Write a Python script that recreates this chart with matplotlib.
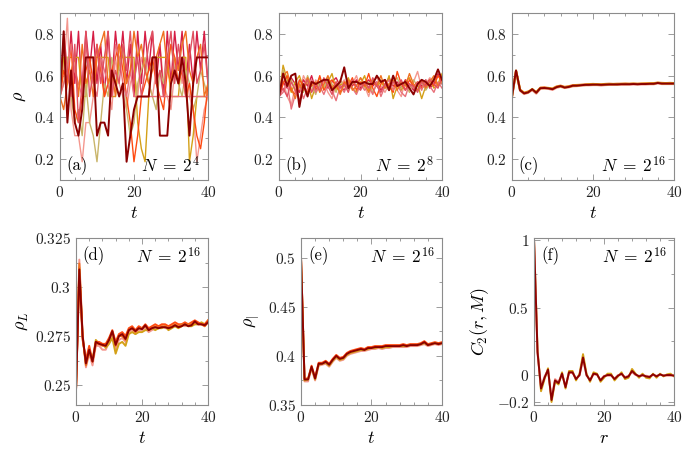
import matplotlib
matplotlib.use("Agg")
import matplotlib.pyplot as plt
from matplotlib.ticker import MultipleLocator, FuncFormatter, FixedLocator

plt.rcParams["font.family"] = "serif"
plt.rcParams["font.serif"] = ["cmr10"]
plt.rcParams["mathtext.fontset"] = "cm"
plt.rcParams["axes.formatter.use_mathtext"] = True

# time axis
t = list(range(41))

# colours of the runs (dark red is the reference run, drawn on top)
run_colors = ["#F4978E", "#D61E45", "#D4A017", "#C9B56A", "#FF4B12", "#E8707A", "#F07020", "#E05060"]
dark = "#8B0000"

# (a) N = 2^4 : number of occupied sites out of 16
a_runs = [
    [8,10,14,7,5,5,3,6,6,8,10,11,8,9,7,11,9,8,7,9,10,8,11,10,9,8,10,12,9,8,7,10,11,9,10,8,7,3,5,7,8],
    [8,12,9,13,9,13,8,13,10,13,9,12,8,13,9,13,10,13,9,12,8,13,9,13,10,13,9,12,8,13,9,13,10,13,9,12,9,13,10,13,9],
    [8,11,11,11,11,11,8,8,11,11,11,11,11,11,8,8,11,11,11,11,11,6,4,3,8,11,11,11,11,11,8,8,8,11,11,3,5,8,8,8,8],
    [8,9,11,8,6,7,5,9,6,5,3,6,9,8,11,9,10,12,7,5,6,9,10,11,9,8,7,10,9,11,12,10,9,8,10,9,7,8,10,9,8],
    [8,10,9,12,7,6,8,10,11,9,12,10,8,9,10,11,12,10,8,6,3,5,8,9,10,11,9,8,7,10,12,11,9,10,8,9,7,5,4,6,9],
    [8,9,10,12,10,9,8,12,10,9,8,11,10,9,8,12,11,9,8,10,8,8,8,8,8,8,8,8,8,8,8,8,8,8,8,8,8,8,8,8,8],
    [8,7,9,10,11,8,12,9,10,8,11,12,13,9,10,8,12,11,9,10,13,11,12,10,9,10,11,12,13,10,9,11,10,12,13,10,9,11,12,8,9],
    [8,13,10,8,12,6,9,13,8,10,12,9,11,13,8,10,9,12,10,13,9,11,8,10,12,13,9,10,8,11,13,9,12,10,8,11,13,9,10,12,9],
]
a_dark = [8,13,6,10,6,5,7,11,11,11,5,6,6,5,10,9,8,9,3,5,7,8,8,8,8,11,11,5,5,5,9,10,9,11,9,5,9,11,11,11,11]
a_sites = 16

# (b) N = 2^8
b_runs = [
    [0.5,0.58,0.50,0.46,0.55,0.52,0.60,0.56,0.53,0.58,0.55,0.57,0.52,0.49,0.56,0.55,0.58,0.53,0.56,0.60,0.54,0.55,0.50,0.57,0.59,0.55,0.52,0.56,0.57,0.53,0.50,0.58,0.55,0.57,0.62,0.54,0.56,0.59,0.57,0.55,0.60],
    [0.5,0.57,0.54,0.59,0.56,0.52,0.58,0.55,0.60,0.53,0.56,0.58,0.54,0.57,0.59,0.55,0.53,0.57,0.55,0.58,0.54,0.56,0.58,0.55,0.57,0.53,0.56,0.59,0.55,0.57,0.54,0.58,0.56,0.53,0.57,0.55,0.58,0.54,0.56,0.61,0.56],
    [0.5,0.65,0.58,0.52,0.57,0.60,0.54,0.58,0.49,0.55,0.59,0.54,0.57,0.61,0.53,0.56,0.55,0.59,0.54,0.52,0.56,0.60,0.53,0.58,0.55,0.57,0.54,0.60,0.49,0.55,0.53,0.57,0.59,0.54,0.56,0.49,0.55,0.58,0.54,0.56,0.61],
    [0.5,0.63,0.55,0.58,0.53,0.57,0.52,0.60,0.55,0.51,0.57,0.54,0.59,0.56,0.52,0.58,0.55,0.53,0.57,0.55,0.59,0.54,0.57,0.52,0.56,0.58,0.55,0.53,0.57,0.59,0.54,0.56,0.52,0.58,0.55,0.57,0.53,0.56,0.59,0.55,0.57],
    [0.5,0.56,0.60,0.53,0.51,0.58,0.55,0.52,0.57,0.54,0.60,0.53,0.56,0.58,0.55,0.52,0.57,0.55,0.59,0.53,0.57,0.55,0.61,0.54,0.50,0.56,0.58,0.55,0.52,0.62,0.56,0.53,0.58,0.55,0.57,0.54,0.56,0.58,0.55,0.60,0.57],
    [0.5,0.52,0.57,0.44,0.51,0.55,0.49,0.54,0.58,0.52,0.55,0.51,0.56,0.53,0.48,0.55,0.52,0.57,0.54,0.51,0.56,0.53,0.55,0.51,0.57,0.50,0.55,0.58,0.53,0.56,0.52,0.50,0.56,0.54,0.57,0.53,0.58,0.55,0.52,0.57,0.54],
    [0.5,0.60,0.62,0.54,0.49,0.56,0.53,0.59,0.55,0.57,0.52,0.56,0.60,0.54,0.57,0.51,0.56,0.58,0.53,0.55,0.59,0.56,0.52,0.57,0.55,0.60,0.54,0.56,0.58,0.53,0.57,0.55,0.61,0.56,0.53,0.58,0.54,0.57,0.60,0.55,0.58],
    [0.5,0.54,0.50,0.57,0.53,0.48,0.55,0.58,0.52,0.56,0.53,0.59,0.55,0.51,0.57,0.54,0.56,0.52,0.58,0.55,0.53,0.57,0.54,0.59,0.55,0.52,0.56,0.54,0.57,0.55,0.58,0.53,0.56,0.55,0.52,0.57,0.55,0.58,0.56,0.54,0.59],
]
b_dark = [0.5,0.61,0.55,0.60,0.61,0.45,0.56,0.50,0.57,0.56,0.57,0.58,0.58,0.53,0.55,0.57,0.64,0.54,0.57,0.57,0.56,0.57,0.56,0.56,0.60,0.57,0.58,0.53,0.60,0.55,0.56,0.57,0.54,0.51,0.56,0.58,0.57,0.55,0.58,0.63,0.58]

# (c) N = 2^16
c_runs = [
    [0.5,0.622,0.533,0.518,0.524,0.532,0.521,0.542,0.544,0.540,0.538,0.548,0.552,0.546,0.549,0.554,0.555,0.556,0.558,0.559,0.560,0.559,0.558,0.560,0.561,0.560,0.561,0.561,0.562,0.561,0.562,0.561,0.562,0.563,0.563,0.564,0.566,0.565,0.564,0.565,0.564],
    [0.5,0.620,0.528,0.512,0.518,0.531,0.514,0.537,0.539,0.537,0.532,0.542,0.547,0.541,0.544,0.549,0.550,0.552,0.554,0.554,0.555,0.555,0.553,0.555,0.556,0.556,0.556,0.557,0.557,0.557,0.558,0.557,0.558,0.558,0.559,0.559,0.563,0.560,0.560,0.560,0.560],
    [0.5,0.624,0.531,0.516,0.521,0.536,0.519,0.541,0.540,0.541,0.536,0.546,0.549,0.544,0.547,0.551,0.553,0.555,0.555,0.558,0.558,0.558,0.557,0.558,0.559,0.559,0.559,0.560,0.560,0.560,0.561,0.560,0.561,0.561,0.562,0.562,0.566,0.563,0.563,0.563,0.563],
]
c_dark = [0.5,0.625,0.53,0.515,0.52,0.535,0.518,0.54,0.541,0.539,0.535,0.545,0.55,0.543,0.546,0.552,0.552,0.554,0.556,0.556,0.557,0.557,0.556,0.557,0.558,0.558,0.558,0.559,0.559,0.559,0.56,0.559,0.56,0.56,0.561,0.561,0.565,0.562,0.562,0.562,0.562]

# (d) rho_L
d_runs = [
    [0.248,0.314,0.276,0.259,0.266,0.260,0.270,0.270,0.268,0.268,0.272,0.276,0.268,0.273,0.274,0.272,0.277,0.278,0.276,0.278,0.278,0.279,0.277,0.278,0.279,0.280,0.280,0.279,0.279,0.280,0.280,0.280,0.281,0.280,0.281,0.281,0.281,0.281,0.281,0.280,0.282],
    [0.248,0.310,0.274,0.261,0.268,0.263,0.273,0.271,0.271,0.269,0.271,0.274,0.266,0.271,0.272,0.270,0.276,0.277,0.276,0.277,0.277,0.278,0.278,0.279,0.278,0.279,0.279,0.280,0.278,0.279,0.280,0.279,0.280,0.281,0.280,0.280,0.281,0.281,0.282,0.281,0.283],
    [0.248,0.307,0.273,0.263,0.270,0.262,0.272,0.272,0.271,0.271,0.274,0.278,0.272,0.276,0.277,0.275,0.279,0.280,0.278,0.280,0.279,0.281,0.279,0.280,0.281,0.280,0.281,0.281,0.280,0.281,0.282,0.281,0.281,0.282,0.281,0.282,0.283,0.282,0.281,0.281,0.283],
    [0.248,0.312,0.275,0.260,0.267,0.262,0.271,0.271,0.270,0.270,0.273,0.277,0.270,0.275,0.275,0.273,0.278,0.279,0.277,0.279,0.279,0.280,0.278,0.279,0.280,0.279,0.280,0.280,0.279,0.280,0.281,0.280,0.281,0.281,0.281,0.281,0.282,0.281,0.281,0.280,0.282],
]
d_dark = [0.2475,0.309,0.275,0.261,0.268,0.262,0.272,0.271,0.2705,0.270,0.273,0.2775,0.2705,0.275,0.276,0.2735,0.278,0.279,0.2775,0.279,0.2785,0.2805,0.278,0.279,0.2795,0.279,0.2795,0.2795,0.279,0.2795,0.2805,0.2795,0.280,0.281,0.280,0.2805,0.2825,0.281,0.281,0.2805,0.282]

# (e) rho_|
e_runs = [
    [0.5,0.374,0.374,0.387,0.375,0.390,0.391,0.392,0.389,0.394,0.398,0.395,0.396,0.400,0.402,0.403,0.404,0.405,0.405,0.406,0.407,0.407,0.408,0.407,0.408,0.408,0.409,0.409,0.409,0.409,0.409,0.410,0.410,0.410,0.411,0.412,0.410,0.411,0.412,0.411,0.412],
    [0.5,0.377,0.377,0.390,0.378,0.393,0.393,0.395,0.392,0.397,0.401,0.398,0.399,0.403,0.405,0.406,0.407,0.408,0.407,0.409,0.409,0.410,0.410,0.410,0.411,0.411,0.411,0.411,0.411,0.412,0.411,0.412,0.412,0.412,0.413,0.415,0.412,0.413,0.414,0.413,0.414],
    [0.5,0.375,0.376,0.388,0.376,0.391,0.392,0.393,0.390,0.395,0.399,0.396,0.397,0.401,0.403,0.404,0.405,0.406,0.406,0.407,0.408,0.408,0.409,0.408,0.409,0.409,0.410,0.410,0.410,0.410,0.410,0.411,0.411,0.411,0.412,0.413,0.411,0.412,0.413,0.412,0.413],
]
e_dark = [0.5,0.376,0.376,0.389,0.377,0.392,0.392,0.394,0.391,0.396,0.400,0.397,0.398,0.402,0.404,0.405,0.406,0.407,0.406,0.408,0.408,0.409,0.409,0.409,0.410,0.410,0.410,0.410,0.410,0.411,0.410,0.411,0.411,0.411,0.412,0.414,0.411,0.412,0.413,0.412,0.413]

# (f) C2(r, M)
r = list(range(41))
f_runs = [
    [1.0,0.19,-0.12,-0.03,0.05,-0.20,-0.05,-0.07,0.02,-0.10,0.03,0.03,-0.04,0.01,0.155,0.01,-0.05,0.02,0.01,-0.05,-0.02,0.01,0.01,-0.04,-0.01,0.02,-0.03,-0.02,0.045,0.01,-0.02,0.01,-0.02,-0.025,0.01,-0.02,0.01,-0.01,0.005,0.01,-0.01],
    [1.0,0.16,-0.09,-0.01,0.035,-0.17,-0.03,-0.05,0.005,-0.08,0.015,0.015,-0.025,-0.005,0.115,-0.005,-0.035,0.005,0.0,-0.035,-0.005,-0.005,-0.005,-0.025,0.0,0.005,-0.015,-0.005,0.02,0.0,-0.005,-0.005,-0.005,-0.01,0.0,-0.005,0.0,0.0,-0.005,-0.005,0.0],
]
f_dark = [1.0,0.17,-0.10,-0.02,0.04,-0.185,-0.04,-0.06,0.01,-0.09,0.02,0.02,-0.03,0.0,0.13,0.0,-0.04,0.01,0.005,-0.04,-0.01,0.0,0.0,-0.03,-0.005,0.01,-0.02,-0.01,0.03,0.005,-0.01,0.0,-0.01,-0.015,0.005,-0.01,0.005,-0.005,0.0,0.0,-0.005]

spine_col = "#8c8c8c"


def fmt(v, pos):
    s = "%g" % round(v, 4)
    return "$" + s + "$"


def style(ax, xlabel, ylabel, label, ntext, top_text):
    for s in ax.spines.values():
        s.set_color(spine_col)
        s.set_linewidth(0.8)
    ax.tick_params(which="both", direction="in", top=True, right=True,
                   color=spine_col, labelsize=11, labelcolor="#222222")
    ax.tick_params(which="major", length=4, width=0.6)
    ax.tick_params(which="minor", length=2.5, width=0.6)
    ax.set_xlim(0, 40)
    ax.set_xticks([0, 20, 40])
    ax.xaxis.set_minor_locator(MultipleLocator(4))
    ax.yaxis.set_major_formatter(FuncFormatter(fmt))
    ax.xaxis.set_major_formatter(FuncFormatter(fmt))
    ax.set_xlabel(xlabel, fontsize=13, labelpad=4)
    ax.set_ylabel(ylabel, fontsize=13, labelpad=4)
    if top_text:
        ax.text(0.05, 0.95, label, transform=ax.transAxes, ha="left", va="top", fontsize=12)
        ax.text(0.95, 0.95, ntext, transform=ax.transAxes, ha="right", va="top", fontsize=12.5)
    else:
        ax.text(0.04, 0.03, label, transform=ax.transAxes, ha="left", va="bottom", fontsize=12)
        ax.text(0.95, 0.03, ntext, transform=ax.transAxes, ha="right", va="bottom", fontsize=12.5)


fig = plt.figure(figsize=(7, 4.5), dpi=100)

ax_a = fig.add_axes([0.0857, 0.6, 0.2114, 0.371])
ax_b = fig.add_axes([0.3986, 0.6, 0.2329, 0.371])
ax_c = fig.add_axes([0.7314, 0.6, 0.2314, 0.371])
ax_d = fig.add_axes([0.1086, 0.1, 0.1886, 0.371])
ax_e = fig.add_axes([0.43, 0.1, 0.2014, 0.371])
ax_f = fig.add_axes([0.7629, 0.1, 0.2, 0.371])

# (a)
for i, run in enumerate(a_runs):
    ax_a.plot(t, [k / a_sites for k in run], color=run_colors[i % len(run_colors)], lw=1.0)
ax_a.plot(t, [k / a_sites for k in a_dark], color=dark, lw=1.4)

# (b)
for i, run in enumerate(b_runs):
    ax_b.plot(t, run, color=run_colors[i % len(run_colors)], lw=1.0)
ax_b.plot(t, b_dark, color=dark, lw=1.4)

# (c)
for i, run in enumerate(c_runs):
    ax_c.plot(t, run, color=["#F07020", "#F4978E", "#D4A017"][i], lw=1.6)
ax_c.plot(t, c_dark, color=dark, lw=1.4)

for ax in (ax_a, ax_b, ax_c):
    ax.set_ylim(0.1, 0.9)
    ax.set_yticks([0.2, 0.4, 0.6, 0.8])
    ax.yaxis.set_minor_locator(MultipleLocator(0.1))

# (d)
for i, run in enumerate(d_runs):
    ax_d.plot(t, run, color=["#F4978E", "#D4A017", "#FF4B12", "#F07020"][i], lw=1.4)
ax_d.plot(t, d_dark, color=dark, lw=1.4)
ax_d.set_ylim(0.2398, 0.325)
ax_d.set_yticks([0.25, 0.275, 0.3, 0.325])
ax_d.yaxis.set_minor_locator(MultipleLocator(0.0125))

# (e)
for i, run in enumerate(e_runs):
    ax_e.plot(t, run, color=["#F4978E", "#FF4B12", "#D4A017"][i], lw=1.4)
ax_e.plot(t, e_dark, color=dark, lw=1.4)
ax_e.set_ylim(0.35, 0.52)
ax_e.set_yticks([0.35, 0.4, 0.45, 0.5])
ax_e.yaxis.set_minor_locator(MultipleLocator(0.025))

# (f)
for i, run in enumerate(f_runs):
    ax_f.plot(r, run, color=["#D4A017", "#F4978E"][i], lw=1.4)
ax_f.plot(r, f_dark, color=dark, lw=1.4)
ax_f.set_ylim(-0.222, 1.015)
ax_f.set_yticks([-0.2, 0, 0.5, 1])
ax_f.yaxis.set_minor_locator(FixedLocator([0.25, 0.75]))

style(ax_a, "$t$", r"$\rho$", "(a)", r"$N\;=\;2^4$", False)
style(ax_b, "$t$", "", "(b)", r"$N\;=\;2^8$", False)
style(ax_c, "$t$", "", "(c)", r"$N\;=\;2^{16}$", False)
style(ax_d, "$t$", r"$\rho_L$", "(d)", r"$N\;=\;2^{16}$", True)
style(ax_e, "$t$", r"$\rho_|$", "(e)", r"$N\;=\;2^{16}$", True)
style(ax_f, "$r$", "$C_2(r,M)$", "(f)", r"$N\;=\;2^{16}$", True)

fig.savefig("out.png", dpi=100)
